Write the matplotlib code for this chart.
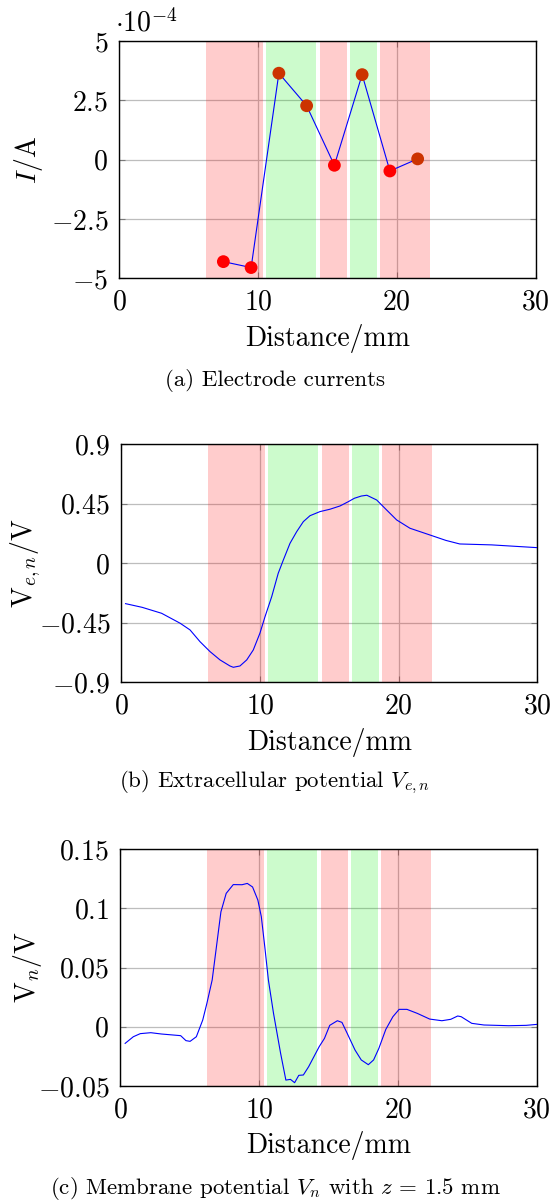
import matplotlib
matplotlib.use("Agg")
import matplotlib.pyplot as plt
from matplotlib.ticker import FixedLocator, FuncFormatter
import numpy as np

plt.rcParams["font.family"] = "cmr10"
plt.rcParams["mathtext.fontset"] = "cm"
plt.rcParams["axes.unicode_minus"] = False

# stimulation bands (mm)
band_start = [6.25, 10.55, 14.45, 16.65, 18.8]
band_end = [10.35, 14.15, 16.4, 18.55, 22.4]
band_kind = ["r", "g", "r", "g", "r"]

# (a) electrode currents
electrode_x = [7.5, 9.5, 11.5, 13.5, 15.5, 17.5, 19.5, 21.5]
electrode_i = [-4.30e-4, -4.55e-4, 3.64e-4, 2.27e-4, -0.24e-4, 3.58e-4, -0.48e-4, 0.03e-4]

# (b) extracellular potential
ve_x = [0.3, 1.5, 2.9, 4.23, 4.95, 5.67, 6.39, 7.11, 7.83, 8.07, 8.55, 9.04,
        9.51, 9.99, 10.36, 10.84, 11.31, 11.68, 12.16, 12.64, 13.12, 13.6,
        14.32, 15.04, 15.77, 16.36, 16.8, 17.3, 17.7, 18.41, 19.13, 19.85,
        20.81, 22.25, 23.4, 24.4, 26.7, 30.0]
ve_v = [-0.307, -0.335, -0.38, -0.455, -0.506, -0.595, -0.670, -0.733, -0.779,
        -0.789, -0.779, -0.733, -0.658, -0.531, -0.405, -0.254, -0.077, 0.024,
        0.15, 0.238, 0.314, 0.359, 0.390, 0.408, 0.433, 0.465, 0.491, 0.508,
        0.514, 0.478, 0.402, 0.327, 0.264, 0.213, 0.172, 0.145, 0.138, 0.117]

# (c) membrane potential
vn_x = [0.35, 0.94, 1.44, 2.2, 2.96, 4.35, 4.73, 5.03, 5.48, 5.94, 6.24, 6.62,
        7.25, 7.63, 8.14, 8.77, 9.15, 9.53, 9.91, 10.16, 10.41, 10.67, 11.04,
        11.55, 11.93, 12.26, 12.56, 12.86, 13.19, 13.57, 14.33, 14.71, 15.09,
        15.64, 15.97, 16.35, 16.91, 17.36, 17.87, 18.25, 18.63, 19.13, 19.64,
        20.09, 20.65, 21.4, 22.29, 23.17, 23.81, 24.31, 24.56, 25.32, 26.2,
        27.98, 29.24, 30.0]
vn_v = [-0.014, -0.0084, -0.0058, -0.005, -0.0061, -0.0075, -0.0117, -0.0123,
        -0.0084, 0.0057, 0.0198, 0.0395, 0.097, 0.1126, 0.120, 0.1199, 0.121,
        0.118, 0.107, 0.093, 0.0676, 0.0395, 0.0113, -0.0224, -0.045, -0.0444,
        -0.0472, -0.041, -0.0407, -0.0337, -0.0168, -0.0098, 0.0012, 0.0051,
        0.0037, -0.0056, -0.0196, -0.028, -0.032, -0.028, -0.0182, -0.0022,
        0.0085, 0.0147, 0.0147, 0.0113, 0.0065, 0.0051, 0.0063, 0.0091, 0.0085,
        0.0029, 0.0015, 0.0009, 0.0012, 0.002]

x_ticks = [0, 10, 20, 30]
a_ticks = [-5e-4, -2.5e-4, 0, 2.5e-4, 5e-4]
b_ticks = [-0.9, -0.45, 0, 0.45, 0.9]
c_ticks = [-0.05, 0, 0.05, 0.1, 0.15]

FS = 20
CS = 16.5


def style_axes(ax, yticks, fmt):
    ax.set_xlim(0, 30)
    ax.set_ylim(yticks[0], yticks[-1])
    ax.xaxis.set_major_locator(FixedLocator(x_ticks))
    ax.yaxis.set_major_locator(FixedLocator(yticks))
    ax.xaxis.set_major_formatter(FuncFormatter(lambda v, p: f"${v:g}$"))
    ax.yaxis.set_major_formatter(FuncFormatter(fmt))
    ax.set_axisbelow(True)
    ax.grid(True, color="#bdbdbd", lw=0.9)
    ax.tick_params(direction="in", length=4.5, width=0.8, color="#7a7a7a",
                   top=True, right=True, labelsize=FS, pad=8)
    for s in ax.spines.values():
        s.set_linewidth(1.0)
    for s, e, k in zip(band_start, band_end, band_kind):
        ax.axvspan(s, e, color="red" if k == "r" else "#00ee00",
                   alpha=0.2, lw=0, zorder=1)
    ax.set_xlabel("Distance/mm", fontsize=FS)
    ax.xaxis.set_label_coords(0.5, -60 / 237)
    ax.xaxis.label.set_verticalalignment("center")
    ax.yaxis.label.set_verticalalignment("center")


fig = plt.figure(figsize=(5.5, 12.04), dpi=100)

ax_a = fig.add_axes([0.2169, 0.7689, 0.7569, 0.1971])
ax_b = fig.add_axes([0.2207, 0.4336, 0.7564, 0.1974])
ax_c = fig.add_axes([0.2187, 0.0980, 0.7571, 0.1968])

# (a)
style_axes(ax_a, a_ticks, lambda v, p: f"${v / 1e-4:g}$")
ax_a.plot(electrode_x, electrode_i, color="#0000ff", lw=0.8, zorder=3)
colors = np.where(np.array(electrode_i) > 0, "#cc3300", "#ff0000")
ax_a.scatter(electrode_x, electrode_i, s=85, c=colors, zorder=4, lw=0)
ax_a.set_ylabel("$I$/A", fontsize=FS)
ax_a.yaxis.set_label_coords(-0.217, 0.5)
ax_a.text(-0.01, 1.039, r"$\cdot 10^{-4}$", transform=ax_a.transAxes,
          fontsize=FS, ha="left", va="baseline")

# (b)
style_axes(ax_b, b_ticks, lambda v, p: f"${v:g}$")
ax_b.plot(ve_x, ve_v, color="#0000ff", lw=0.8, zorder=3)
ax_b.set_ylabel("V$_{e,n}$/V", fontsize=FS)
ax_b.yaxis.set_label_coords(-0.229, 0.5)

# (c)
style_axes(ax_c, c_ticks, lambda v, p: f"${v:g}$")
ax_c.plot(vn_x, vn_v, color="#0000ff", lw=0.8, zorder=3)
ax_c.set_ylabel("V$_n$/V", fontsize=FS)
ax_c.yaxis.set_label_coords(-0.222, 0.5)

fig.text(0.5, 1 - 381 / 1204, "(a) Electrode currents", fontsize=CS,
         ha="center", va="center")
fig.text(0.5, 1 - 782 / 1204, r"(b) Extracellular potential $V_{e,n}$",
         fontsize=CS, ha="center", va="center")
fig.text(0.5, 1 - 1188 / 1204,
         r"(c) Membrane potential $V_n$ with $z$ = 1.5 mm",
         fontsize=CS, ha="center", va="center")

fig.savefig("out.png", dpi=100)
